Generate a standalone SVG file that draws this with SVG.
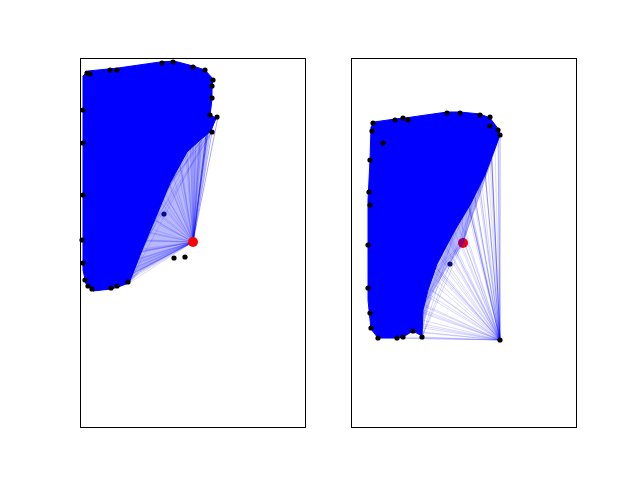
<svg xmlns="http://www.w3.org/2000/svg" width="640" height="480" viewBox="0 0 640 480">
<style>
.frame{fill:none;stroke:#000;stroke-width:1}
.dense{fill:#0000ff;stroke:#0000ff;stroke-width:1;stroke-linejoin:round}
.band{fill:#0000ff;fill-opacity:0.28;stroke:none}
.ln{stroke:#0000ff;stroke-opacity:0.15;stroke-width:1;fill:none}
.lnd{stroke:#0000ff;stroke-opacity:0.35;stroke-width:1;fill:none}
.pt{fill:#000}
.pti{fill:#10105a}
.red{fill:#ff0000}
</style>
<rect width="640" height="480" fill="#fff"/>
<g id="panel-left">
  <polygon class="dense" points="83,76 88,71 108,69 118,68 160,62 174,61 193,66 205,70 213,79 212,86 212,99 210,115 216,118 211,131 200,140 187,152 170,183 158,212 142,250 133,273 129,283 118,287 111,289 93,291 86,284 83,270"/>
  <circle class="pti" cx="164" cy="214" r="2.6"/>
  <polygon class="band" points="211,131 205,170 193,242 170,255 140,272 129,283 133,273 142,250 158,212 170,183 187,152 200,140"/>
  <g id="left-fan">
    <path class="lnd" d="M193,242L213,80M193,242L212,86M193,242L212,99M193,242L210,115M193,242L218,117M193,242L212,132M193,242L205,70M193,242L193,67"/>
    <path class="ln" d="M193,242L129,283M193,242L118,287M193,242L111,289M193,242L93,291M193,242L86,282M193,242L83,263M193,242L83,240M193,242L84,220M193,242L90,260M193,242L100,270M193,242L110,275M193,242L120,265M193,242L125,255M193,242L135,250M193,242L130,240M193,242L140,230M193,242L145,215M193,242L150,205M193,242L155,195M193,242L160,185M193,242L165,175M193,242L170,165M193,242L178,155M193,242L185,145M193,242L190,135M193,242L196,125M193,242L200,110M193,242L205,95M193,242L160,225M193,242L150,240M193,242L145,250M193,242L138,262M193,242L103,282M193,242L98,286M193,242L140,270M193,242L165,210M193,242L175,190M193,242L182,170M193,242L188,160M193,242L202,140M193,242L120,280M193,242L115,283M193,242L107,286M193,242L124,272M193,242L132,262M193,242L148,228M193,242L155,220M193,242L168,200M193,242L180,180M193,242L195,150M193,242L200,128M193,242L198,90M193,242L190,100M193,242L185,120M193,242L176,140M193,242L160,160M193,242L150,180M193,242L140,200"/>
    <path class="ln" d="M93,291L218,117M111,289L212,132M129,283L216,118M118,287L213,80M93,291L212,99M111,289L210,115M129,283L212,86M86,282L212,132M100,285L218,117M129,283L205,70M118,287L212,132M125,284L210,115"/>
  </g>
  <g id="left-points">
    <circle class="pt" cx="87" cy="73" r="2.6"/>
    <circle class="pt" cx="90" cy="74" r="2.6"/>
    <circle class="pt" cx="110" cy="70" r="2.6"/>
    <circle class="pt" cx="117" cy="70" r="2.6"/>
    <circle class="pt" cx="162" cy="63" r="2.6"/>
    <circle class="pt" cx="173" cy="62" r="2.6"/>
    <circle class="pt" cx="193" cy="67" r="2.6"/>
    <circle class="pt" cx="205" cy="70" r="2.6"/>
    <circle class="pt" cx="213" cy="80" r="2.6"/>
    <circle class="pt" cx="212" cy="86" r="2.6"/>
    <circle class="pt" cx="212" cy="98" r="2.6"/>
    <circle class="pt" cx="210" cy="115" r="2.6"/>
    <circle class="pt" cx="217" cy="117" r="2.6"/>
    <circle class="pt" cx="212" cy="132" r="2.6"/>
    <circle class="pt" cx="83" cy="110" r="2.6"/>
    <circle class="pt" cx="83" cy="143" r="2.6"/>
    <circle class="pt" cx="83" cy="195" r="2.6"/>
    <circle class="pt" cx="82" cy="240" r="2.6"/>
    <circle class="pt" cx="83" cy="263" r="2.6"/>
    <circle class="pt" cx="85" cy="280" r="2.6"/>
    <circle class="pt" cx="88" cy="286" r="2.6"/>
    <circle class="pt" cx="92" cy="289" r="2.6"/>
    <circle class="pt" cx="111" cy="288" r="2.6"/>
    <circle class="pt" cx="117" cy="286" r="2.6"/>
    <circle class="pt" cx="128" cy="282" r="2.6"/>
    <circle class="pt" cx="174" cy="258" r="2.6"/>
    <circle class="pt" cx="185" cy="257" r="2.6"/>
    <circle class="red" cx="193" cy="242" r="5"/>
  </g>
  <rect class="frame" x="80.5" y="58.5" width="225" height="369"/>
</g>
<g id="panel-right">
  <circle class="red" cx="463" cy="243" r="5"/>
  <polygon class="dense" points="371,127 374,122 395,119 405,118 447,112 460,112 480,114 490,118 499,130 500,135 485,175 470,205 455,230 447,245 437,264 428,290 423,310 422,336 413,331 403,337 397,338 378,338 371,329 368,300 368,200 370,160"/>
  <circle class="pti" cx="450" cy="264" r="2.6"/>
  <polygon class="band" points="500,135 480,195 463,243 447,267 432,295 425,320 422,336 423,310 428,290 437,264 447,245 455,230 470,205 485,175"/>
  <g id="right-fan">
    <path class="lnd" d="M500,340L500,135M500,340L498,130M500,340L490,126M500,340L490,117M500,340L480,115M500,340L460,113M500,340L447,113"/>
    <path class="ln" d="M500,340L422,337M500,340L413,331M500,340L403,337M500,340L397,338M500,340L378,338M500,340L371,328M500,340L370,313M500,340L368,288M500,340L368,245M500,340L370,205M500,340L369,192M500,340L370,160M500,340L373,123M500,340L395,120M500,340L408,120M500,340L422,320M500,340L425,305M500,340L430,295M500,340L435,285M500,340L440,275M500,340L445,268M500,340L450,258M500,340L455,250M500,340L460,240M500,340L465,230M500,340L470,220M500,340L475,205M500,340L480,190M500,340L485,175M500,340L490,160M500,340L495,148M500,340L423,328M500,340L424,312M500,340L432,290M500,340L442,272M500,340L452,256M500,340L462,236M500,340L472,212M500,340L482,185M500,340L488,168M500,340L420,250M500,340L430,200M500,340L440,160M500,340L455,140M500,340L470,130M500,340L410,300M500,340L400,280M500,340L415,260M500,340L425,230M500,340L435,215M500,340L445,190M500,340L460,170M500,340L475,150M500,340L390,320M500,340L385,300"/>
    <path class="ln" d="M463,243L378,338M463,243L403,337M463,243L422,337M463,243L371,328M463,243L498,130M463,243L490,117M463,243L480,115M463,243L500,135M463,243L413,331M463,243L397,338M463,243L490,126M463,243L460,113"/>
    <path class="ln" d="M422,337L500,135M413,331L498,130M403,337L490,126M378,338L500,135M397,338L490,117M422,337L490,117M413,331L500,135"/>
  </g>
  <g id="right-points">
    <circle class="pt" cx="373" cy="123" r="2.6"/>
    <circle class="pt" cx="372" cy="131" r="2.6"/>
    <circle class="pt" cx="383" cy="143" r="2.6"/>
    <circle class="pt" cx="395" cy="120" r="2.6"/>
    <circle class="pt" cx="403" cy="118" r="2.6"/>
    <circle class="pt" cx="408" cy="120" r="2.6"/>
    <circle class="pt" cx="447" cy="113" r="2.6"/>
    <circle class="pt" cx="460" cy="113" r="2.6"/>
    <circle class="pt" cx="480" cy="115" r="2.6"/>
    <circle class="pt" cx="490" cy="117" r="2.6"/>
    <circle class="pt" cx="490" cy="126" r="2.6"/>
    <circle class="pt" cx="498" cy="130" r="2.6"/>
    <circle class="pt" cx="500" cy="135" r="2.6"/>
    <circle class="pt" cx="370" cy="160" r="2.6"/>
    <circle class="pt" cx="369" cy="192" r="2.6"/>
    <circle class="pt" cx="370" cy="205" r="2.6"/>
    <circle class="pt" cx="368" cy="245" r="2.6"/>
    <circle class="pt" cx="368" cy="288" r="2.6"/>
    <circle class="pt" cx="370" cy="313" r="2.6"/>
    <circle class="pt" cx="371" cy="328" r="2.6"/>
    <circle class="pt" cx="378" cy="338" r="2.6"/>
    <circle class="pt" cx="397" cy="338" r="2.6"/>
    <circle class="pt" cx="403" cy="337" r="2.6"/>
    <circle class="pt" cx="413" cy="331" r="2.6"/>
    <circle class="pt" cx="422" cy="337" r="2.6"/>
    <circle class="pt" cx="500" cy="340" r="2.6"/>
  </g>
  <rect class="frame" x="351.5" y="58.5" width="225" height="369"/>
</g>
</svg>
